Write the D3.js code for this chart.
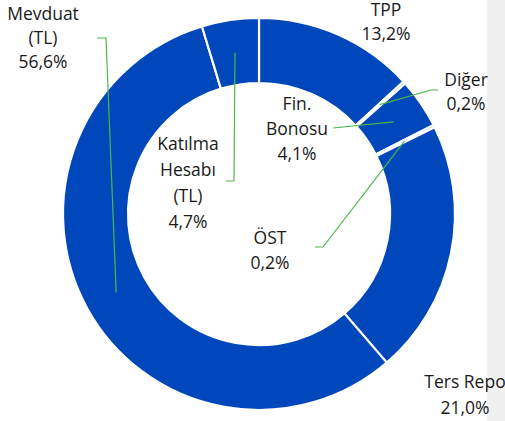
<!DOCTYPE html>
<html><head><meta charset="utf-8">
<script src="https://cdn.jsdelivr.net/npm/d3@7"></script>
<style>body{margin:0;background:#fff}svg{display:block}text{font-family:"Open Sans",sans-serif;font-size:17.5px;fill:#1a1a1a}</style>
</head><body>
<svg id="c" width="505" height="421"></svg>
<script>
const categories = ["TPP","Diğer","Fin. Bonosu","ÖST","Ters Repo","Mevduat (TL)","Katılma Hesabı (TL)"];
const values = [13.2, 0.2, 4.1, 0.2, 21.0, 56.6, 4.7];
const labelLines = [["TPP","13,2%"],["Diğer","0,2%"],["Fin.","Bonosu","4,1%"],["ÖST","0,2%"],["Ters Repo","21,0%"],["Mevduat","(TL)","56,6%"],["Katılma","Hesabı","(TL)","4,7%"]];

const W=505,H=421,cx=259,cy=214,R=196,r=131;
const svg=d3.select("#c");
svg.append("rect").attr("x",487).attr("y",0).attr("width",18).attr("height",H).attr("fill","#f0f0f0");
const g=svg.append("g").attr("transform",`translate(${cx},${cy})`);
const pie=d3.pie().sort(null).value(d=>d);
const arcs=pie(values);
const arc=d3.arc().innerRadius(r).outerRadius(R);
g.selectAll("path").data(arcs).join("path").attr("d",arc).attr("fill","#0047BB").attr("stroke","#fff").attr("stroke-width",2.2);

// label layout (position of each label block: center x, first baseline y, line height)
const layout=[
 {x:386,y:16,lh:24,leader:null},
 {x:466,y:86,lh:24,leader:[[438,90],[431,90]]},
 {x:297,y:110,lh:25,leader:[[333,128]]},
 {x:270,y:244,lh:25,leader:[[315,247],[323,247]]},
 {x:465,y:388,lh:26,leader:null},
 {x:43,y:20,lh:24,leader:[[97,38],[106,38]]},
 {x:188,y:150,lh:26,leader:[[226,181],[234,181]]}
];
const anchorArc=d3.arc().innerRadius(163).outerRadius(163);
const lg=svg.append("g");
arcs.forEach((a,i)=>{
  const L=layout[i];
  if(L.leader){
    const c=anchorArc.centroid(a);
    const pts=L.leader.concat([[c[0]+cx,c[1]+cy]]);
    lg.append("path").attr("d",d3.line()(pts)).attr("fill","none").attr("stroke","#4cb84c").attr("stroke-width",1.2);
  }
  const t=svg.append("text").attr("text-anchor","middle");
  labelLines[i].forEach((s,j)=>t.append("tspan").attr("x",L.x).attr("y",L.y+j*L.lh).text(s));
});
</script>
</body></html>
